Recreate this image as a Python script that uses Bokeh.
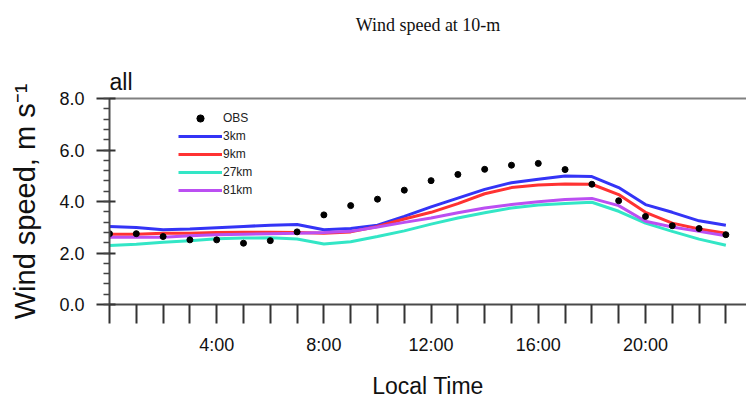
from bokeh.plotting import figure
from bokeh.models import (Range1d, LinearAxis, FixedTicker, SingleIntervalTicker,
                          Title, Legend, LegendItem)
from bokeh.embed import file_html
from bokeh.resources import INLINE

# ---- data ----
hours = list(range(24))
obs = [2.75, 2.75, 2.64, 2.51, 2.51, 2.38, 2.48, 2.82, 3.48, 3.84, 4.09, 4.44,
       4.81, 5.05, 5.25, 5.41, 5.48, 5.24, 4.67, 4.03, 3.42, 3.06, 2.95, 2.71]
km3 = [3.03, 2.99, 2.90, 2.93, 2.98, 3.03, 3.08, 3.11, 2.90, 2.95, 3.08, 3.42,
       3.79, 4.13, 4.47, 4.73, 4.86, 4.99, 4.97, 4.54, 3.88, 3.58, 3.25, 3.08]
km9 = [2.73, 2.73, 2.77, 2.77, 2.80, 2.81, 2.81, 2.80, 2.77, 2.82, 3.03, 3.32,
       3.58, 3.92, 4.30, 4.54, 4.64, 4.68, 4.67, 4.27, 3.58, 3.16, 2.93, 2.77]
km27 = [2.29, 2.34, 2.42, 2.48, 2.55, 2.58, 2.59, 2.54, 2.35, 2.44, 2.64, 2.86,
        3.12, 3.36, 3.56, 3.75, 3.86, 3.92, 3.97, 3.62, 3.16, 2.84, 2.54, 2.30]
km81 = [2.61, 2.61, 2.61, 2.67, 2.71, 2.73, 2.75, 2.77, 2.80, 2.84, 3.01, 3.19,
        3.36, 3.56, 3.75, 3.88, 3.99, 4.08, 4.12, 3.84, 3.23, 3.01, 2.84, 2.67]
series_names = ["3km", "9km", "27km", "81km"]
series_values = [km3, km9, km27, km81]
series_colors = ["#3434f6", "#ff3232", "#33e6c6", "#bb4ff2"]
x_label_hours = [4, 8, 12, 16, 20]
x_label_texts = ["4:00", "8:00", "12:00", "16:00", "20:00"]
y_ticks = [0, 2, 4, 6, 8]
y_tick_texts = ["0.0", "2.0", "4.0", "6.0", "8.0"]

SANS = "Liberation Sans"
TXT = "#111111"

p = figure(width=746, height=407, output_backend="svg", toolbar_location=None,
           x_range=Range1d(0, 23.77), y_range=Range1d(0, 8),
           min_border_left=109, min_border_right=0, min_border_top=98,
           min_border_bottom=103)
p.xgrid.visible = False
p.ygrid.visible = False
p.outline_line_color = None
p.background_fill_color = "white"
p.border_fill_color = "white"

AXIS_COLOR = "#4a4a4a"

# x axis
xa = p.xaxis[0]
xa.ticker = FixedTicker(ticks=hours)
xa.major_label_overrides = {h: "" for h in hours}
xa.major_label_overrides.update(dict(zip(x_label_hours, x_label_texts)))
xa.minor_tick_line_color = None
xa.major_tick_in = 0
xa.major_tick_out = 19
xa.major_tick_line_width = 2
xa.major_tick_line_color = "#333333"
xa.axis_line_width = 2
xa.axis_line_color = AXIS_COLOR
xa.major_label_standoff = 11
xa.major_label_text_font = SANS
xa.major_label_text_font_size = "18px"
xa.major_label_text_color = TXT
xa.axis_label = "Local Time"
xa.axis_label_text_font = SANS
xa.axis_label_text_font_style = "normal"
xa.axis_label_text_font_size = "23px"
xa.axis_label_standoff = 15
xa.axis_label_text_color = TXT

# y axis
ya = p.yaxis[0]
ya.ticker = SingleIntervalTicker(interval=2, num_minor_ticks=5)
ya.major_label_overrides = dict(zip(y_ticks, y_tick_texts))
ya.major_tick_in = 6
ya.major_tick_out = 13
ya.minor_tick_in = 0
ya.minor_tick_out = 6
ya.major_tick_line_width = 2
ya.minor_tick_line_width = 1.5
ya.major_tick_line_color = "#333333"
ya.minor_tick_line_color = "#444444"
ya.axis_line_width = 2
ya.axis_line_color = AXIS_COLOR
ya.major_label_standoff = 12
ya.major_label_text_font = SANS
ya.major_label_text_font_size = "18px"
ya.major_label_text_color = TXT
ya.axis_label = "Wind speed, m s\u207b\u00b9"
ya.axis_label_text_font = SANS
ya.axis_label_text_font_style = "normal"
ya.axis_label_text_font_size = "29px"
ya.axis_label_standoff = 15
ya.axis_label_text_color = TXT

# top frame line
top = LinearAxis(ticker=FixedTicker(ticks=[]), axis_line_color="#808080",
                 axis_line_width=2, major_label_text_font_size="0px",
                 major_tick_out=0, major_tick_in=0, major_label_standoff=0,
                 minor_tick_out=0, minor_tick_in=0)
p.add_layout(top, "above")

# panel name above the frame, a spacer, then the page title
p.add_layout(Title(text="all", align="left", standoff=8, text_font=SANS,
                   text_font_size="23px", text_font_style="normal",
                   text_color=TXT), "above")
p.add_layout(Title(text=" ", align="left", standoff=2, text_font=SANS,
                   text_font_size="10px"), "above")
p.title.text = "Wind speed at 10-m"
p.title.align = "center"
p.title.vertical_align = "top"
p.title.standoff = 22
p.title.text_font = "Liberation Serif"
p.title.text_font_size = "18px"
p.title.text_font_style = "normal"
p.title.text_color = TXT

# series
renderers = []
for name, vals, col in zip(series_names, series_values, series_colors):
    r = p.line(hours, vals, line_color=col, line_width=3)
    renderers.append((name, r))
r_obs = p.scatter(hours, obs, size=6, fill_color="black", line_color="black")

items = [LegendItem(label="OBS", renderers=[r_obs])]
items += [LegendItem(label=n, renderers=[r]) for n, r in renderers]
legend = Legend(items=items, location=(69, 105), border_line_color=None,
                background_fill_alpha=0, glyph_width=44, glyph_height=18,
                label_height=18, spacing=0, padding=0, margin=0,
                label_standoff=1, label_text_font=SANS,
                label_text_font_size="12px", label_text_color="#222222")
p.add_layout(legend, "center")

open("out.html", "w").write(file_html(p, INLINE))
